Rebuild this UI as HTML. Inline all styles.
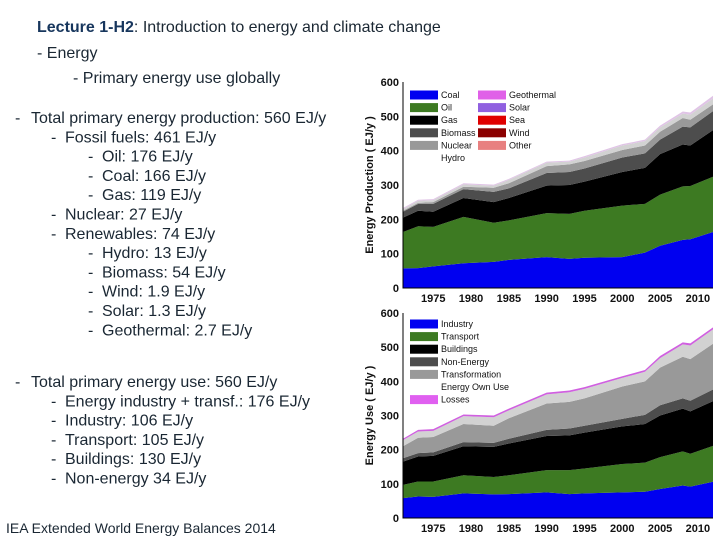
<!DOCTYPE html>
<html><head><meta charset="utf-8"><style>
body{margin:0;background:#fff;}
svg{display:block;font-family:"Liberation Sans",sans-serif;}
.t{fill:#1a2733;font-size:16px;}
.tk{font-size:11px;font-weight:bold;fill:#111;}
.lg{font-size:9px;fill:#111;}
</style></head><body>
<svg id="s" width="720" height="540" viewBox="0 0 720 540">
<text class="t" x="37" y="32"><tspan font-weight="bold" fill="#17365d">Lecture 1-H2</tspan>: Introduction to energy and climate change</text>
<text class="t" x="37" y="58">-  Energy</text>
<text class="t" x="73" y="83">-  Primary energy use globally</text>
<g id="txt"></g>
<text class="t" x="6" y="533" style="font-size:14px">IEA Extended World Energy Balances 2014</text>
<g id="c1"></g>
<g id="c2"></g>
</svg>
<script>
const years=[1971,1973,1975,1979,1983,1985,1990,1993,1995,2000,2003,2005,2008,2009,2012];
// production chart cumulative tops (EJ/y)
const prodCoal=[57,58,63,72,76,82,90,85,88,90,103,123,140,142,163];
const prodOil=[163,180,178,207,190,197,218,216,225,240,245,272,296,297,324];
const prodGas=[205,225,222,262,250,262,298,300,310,338,350,390,418,415,460];
const prodBiomass=[222,245,245,288,280,290,335,338,348,380,392,432,470,468,515];
const prodNuclear=[225,248,250,295,292,305,355,360,370,402,415,455,495,490,535];
const prodHydro=[230,254,256,302,298,315,365,368,380,415,428,468,508,505,552];
const prodOther=[233,257,259,305,301,318,368,371,384,419,432,473,514,511,560];
// use chart cumulative tops
const useIndustry=[58,63,62,72,69,70,75,70,72,75,77,85,95,92,106];
const useTransport=[97,107,107,125,120,125,140,140,145,158,162,178,195,188,211];
const useBuildings=[165,180,182,210,208,218,240,242,250,268,275,300,320,312,342];
const useNonEnergy=[175,190,192,222,220,232,258,262,270,290,302,330,350,343,376];
const useTransform=[210,235,237,275,270,292,335,340,350,385,400,440,472,465,510];
const useOwn=[228,253,255,298,295,315,362,368,378,410,428,468,508,505,552];
const useLosses=[232,258,260,303,300,320,367,373,383,415,433,474,514,511,558];
const yTicks=[0,100,200,300,400,500,600];
const xTicks=[1975,1980,1985,1990,1995,2000,2005,2010];
const prodLegend1=["Coal","Oil","Gas","Biomass","Nuclear","Hydro"];
const prodLegend2=["Geothermal","Solar","Sea","Wind","Other"];
const useLegend=["Industry","Transport","Buildings","Non-Energy","Transformation","Energy Own Use","Losses"];
const lines1=[[0,"Total primary energy production: 560 EJ/y"],[1,"Fossil fuels: 461 EJ/y"],[2,"Oil: 176 EJ/y"],[2,"Coal: 166 EJ/y"],[2,"Gas: 119 EJ/y"],[1,"Nuclear: 27 EJ/y"],[1,"Renewables: 74 EJ/y"],[2,"Hydro: 13 EJ/y"],[2,"Biomass: 54 EJ/y"],[2,"Wind: 1.9 EJ/y"],[2,"Solar: 1.3 EJ/y"],[2,"Geothermal: 2.7 EJ/y"]];
const lines2=[[0,"Total primary energy use: 560 EJ/y"],[1,"Energy industry + transf.: 176 EJ/y"],[1,"Industry: 106 EJ/y"],[1,"Transport: 105 EJ/y"],[1,"Buildings: 130 EJ/y"],[1,"Non-energy 34 EJ/y"]];

const NS="http://www.w3.org/2000/svg";
function mk(tag,attrs,parent){const e=document.createElementNS(NS,tag);for(const k in attrs)e.setAttribute(k,attrs[k]);parent.appendChild(e);return e;}
const txt=document.getElementById('txt');
const dashX=[15,51,88],textX=[31,65,102];
function writeLines(arr,y0){arr.forEach((l,i)=>{const y=y0+i*19.3;
 const d=mk('text',{x:dashX[l[0]],y:y,class:'t'},txt);d.textContent='-';
 
 
 const t=mk('text',{x:textX[l[0]],y:y,class:'t'},txt);t.textContent=l[1];
 
 });}
writeLines(lines1,123);writeLines(lines2,387);

function chart(g,top,bottom,series,colors,title,legendCols){
 const x0=403,x1=713;
 const xs=v=>x0+(v-1971)/(2012-1971)*(x1-x0);
 const ys=v=>bottom-v/600*(bottom-top);
 mk('rect',{x:x0,y:top,width:x1-x0,height:bottom-top,fill:'#fff'},g);
 let prev=years.map(()=>0);
 series.forEach((s,si)=>{
  let d='M'+years.map((yr,i)=>xs(yr)+','+ys(s[i])).join('L');
  for(let i=years.length-1;i>=0;i--)d+='L'+xs(years[i])+','+ys(prev[i]);
  const p=mk('path',{d:d+'Z',fill:colors[si]},g);
  
  
  prev=s;});
 const ax=mk('path',{d:`M${x0},${top}V${bottom}H${x1}`,stroke:'#000','stroke-width':1,fill:'none'},g);
 
 
 yTicks.forEach(v=>{const t=mk('text',{x:x0-4,y:ys(v)+4,class:'tk','text-anchor':'end'},g);t.textContent=v;
  
  });
 xTicks.forEach(v=>{const t=mk('text',{x:xs(v),y:bottom+14,class:'tk','text-anchor':'middle'},g);t.textContent=v;
  
  });
 const yc=(top+bottom)/2;
 const tt=mk('text',{x:373,y:yc,class:'tk','font-size':'12','text-anchor':'middle',transform:`rotate(-90 373 ${yc})`},g);
 tt.textContent=title;
 
 
 legendCols.forEach(col=>{col.items.forEach((lab,i)=>{const yy=col.y0+i*12.6;
  if(col.colors[i]){const r=mk('rect',{x:col.x,y:yy-4.5,width:28,height:9,fill:col.colors[i]},g);
   
   }
  const t=mk('text',{x:col.x+31,y:yy+3,class:'lg'},g);t.textContent=lab;
  
  });});
}
chart(document.getElementById('c1'),82,288,
 [prodCoal,prodOil,prodGas,prodBiomass,prodNuclear,prodHydro,prodOther],
 ['#0000f0','#3d7a22','#000','#4d4d4d','#999','#d2d2d2','#e0c4e6'],
 'Energy Production ( EJ/y )',
 [{x:410,y0:95,items:prodLegend1,colors:['#0000f0','#3d7a22','#000','#4d4d4d','#999',null]},
  {x:478,y0:95,items:prodLegend2,colors:['#e060e8','#9060e0','#e00000','#8b0000','#e88080']}]);
chart(document.getElementById('c2'),313,518,
 [useIndustry,useTransport,useBuildings,useNonEnergy,useTransform,useOwn,useLosses],
 ['#0000f0','#3d7a22','#000','#4d4d4d','#999','#d2d2d2','#d060e0'],
 'Energy Use ( EJ/y )',
 [{x:410,y0:324,items:useLegend,colors:['#0000f0','#3d7a22','#000','#4d4d4d','#999',null,'#e060f0']}]);
</script>
</body></html>
